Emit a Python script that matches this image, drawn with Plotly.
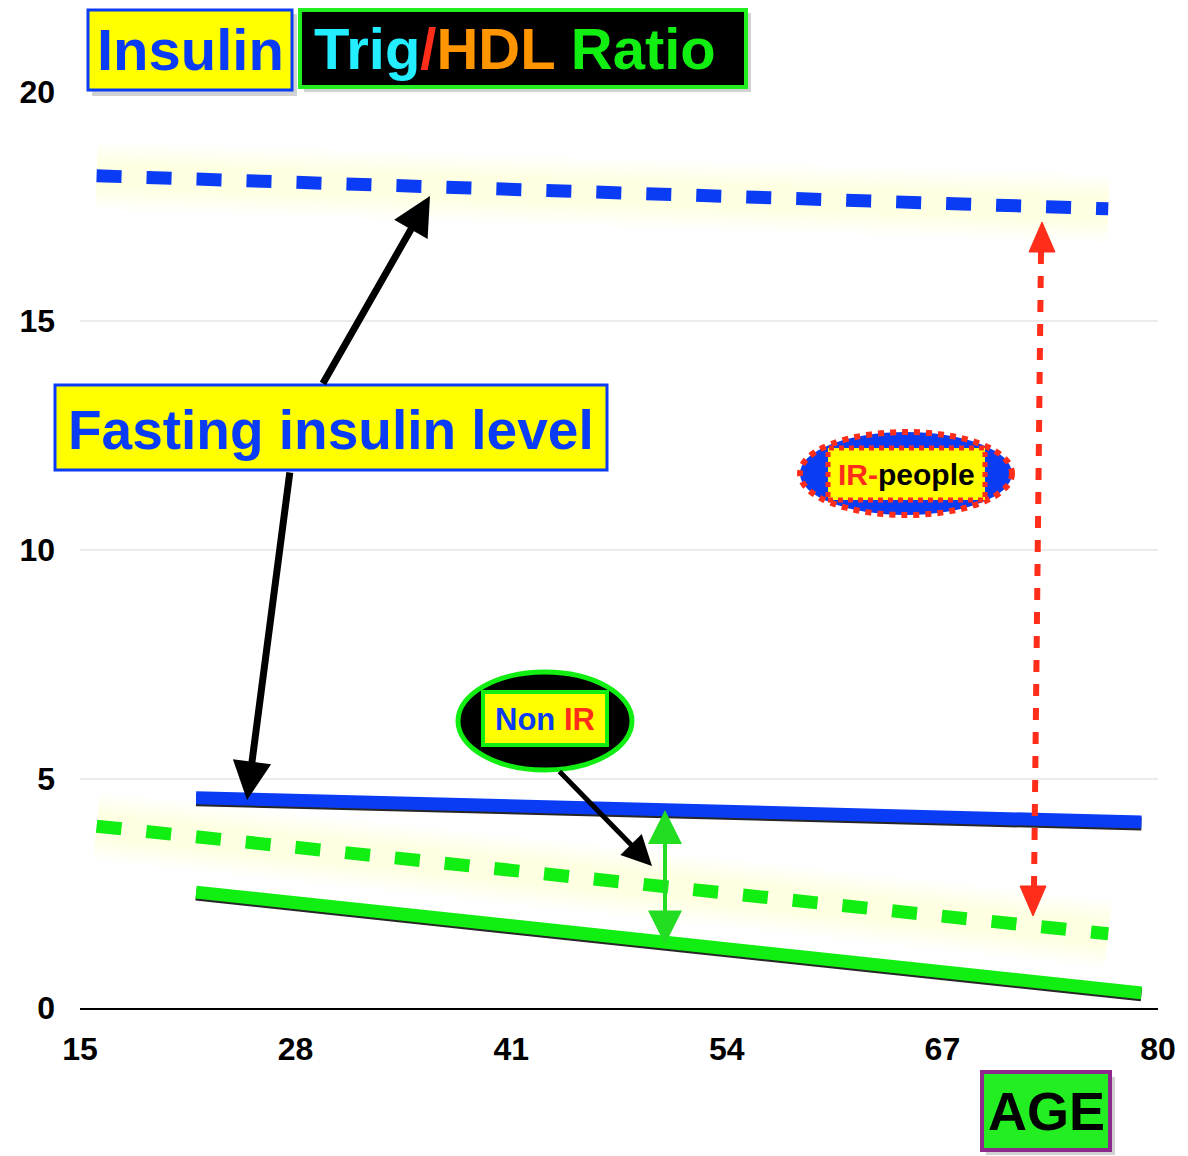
"""Insulin and Trig/HDL ratio by age: IR people vs non IR people."""
import plotly.graph_objects as go

# ---- data ----
age_solid = [22, 40, 58, 76, 79]
insulin_non_ir = [4.59, 4.43, 4.26, 4.09, 4.06]
ratio_non_ir = [2.53, 1.84, 1.14, 0.45, 0.33]

age_dashed = [16, 35, 54, 73, 77]
insulin_ir = [18.17, 17.95, 17.72, 17.50, 17.45]
ratio_ir = [3.97, 3.24, 2.51, 1.78, 1.62]

x_ticks = [15, 28, 41, 54, 67, 80]
y_ticks = [0, 5, 10, 15, 20]

BLUE = "#0A3CF5"
GREEN = "#11EE11"
YELLOW = "#FFFF00"
RED = "#FF2D1A"
FONT = "Liberation Sans"

# the page puts the figure 8px in from the corner, so the figure is 8px smaller
OFF = 8
W, H = 1188 - OFF, 1156 - OFF
L, R, T, B = 80 - OFF, 30, 92 - OFF, 148
PW, PH = W - L - R, H - T - B


def px(xp):
    # page pixel -> paper x
    return (xp - 80) / PW


def py(yp):
    # page pixel -> paper y
    return (1008 - yp) / PH


fig = go.Figure()

# soft yellow glow under the dashed (IR) lines
for ys in (insulin_ir, ratio_ir):
    for w in (66, 56, 46, 36, 26):
        fig.add_trace(go.Scatter(x=age_dashed, y=ys, mode="lines",
                                 line=dict(color="rgba(255,250,110,0.045)", width=w),
                                 hoverinfo="skip", showlegend=False))

# dark shadow just under the solid lines
shift = 2 * 20 / PH
for ys in (insulin_non_ir, ratio_non_ir):
    fig.add_trace(go.Scatter(x=age_solid, y=[v - shift for v in ys], mode="lines",
                             line=dict(color="rgba(0,0,0,0.85)", width=13),
                             hoverinfo="skip", showlegend=False))

fig.add_trace(go.Scatter(x=age_solid, y=insulin_non_ir, mode="lines", name="Insulin (non IR)",
                         line=dict(color=BLUE, width=13)))
fig.add_trace(go.Scatter(x=age_solid, y=ratio_non_ir, mode="lines", name="Trig/HDL (non IR)",
                         line=dict(color=GREEN, width=13)))
fig.add_trace(go.Scatter(x=age_dashed, y=insulin_ir, mode="lines", name="Insulin (IR)",
                         line=dict(color=BLUE, width=13, dash="25px,25px")))
fig.add_trace(go.Scatter(x=age_dashed, y=ratio_ir, mode="lines", name="Trig/HDL (IR)",
                         line=dict(color=GREEN, width=13, dash="25px,25px")))


def rect(x0, y0, x1, y1, fill, line, lw, dash="solid", kind="rect"):
    return dict(type=kind, xref="paper", yref="paper", x0=px(x0), x1=px(x1),
                y0=py(y1), y1=py(y0), fillcolor=fill, layer="above",
                line=dict(color=line, width=lw, dash=dash))


def label(x, y, text, size, color="black"):
    return dict(xref="paper", yref="paper", x=px(x), y=py(y), text=text, showarrow=False,
                xanchor="center", yanchor="middle",
                font=dict(family=FONT, size=size, color=color, weight="bold"))


def arrow(hx, hy, tx, ty, color, width, size, side="end"):
    return dict(xref="paper", yref="paper", x=px(hx), y=py(hy), ax=tx - hx, ay=ty - hy,
                text="", showarrow=True, arrowhead=2, arrowsize=size, arrowwidth=width,
                arrowcolor=color, arrowside=side, startarrowhead=2, startarrowsize=size)


shapes = [
    # title boxes with a faint drop shadow
    rect(92, 14, 297, 96, "rgba(0,0,0,0.18)", "rgba(0,0,0,0)", 0),
    rect(304, 13, 751, 92, "rgba(0,0,0,0.18)", "rgba(0,0,0,0)", 0),
    rect(88, 10, 292, 90, YELLOW, BLUE, 3),
    rect(300, 10, 746, 87, "black", "#22EE22", 4),
    # fasting insulin label
    rect(55, 385, 607, 470, YELLOW, BLUE, 3),
    # Non IR bubble
    rect(458, 672, 632, 770, "black", GREEN, 5, kind="circle"),
    rect(483, 692, 607, 745, YELLOW, GREEN, 4),
    # IR-people bubble
    rect(800, 432, 1012, 515, BLUE, RED, 6, dash="dot", kind="circle"),
    rect(828, 448, 985, 500, YELLOW, RED, 5, dash="dot"),
    # red dotted gap arrow
    dict(type="line", xref="paper", yref="paper", x0=px(1041), y0=py(252), x1=px(1034), y1=py(888),
         layer="above", line=dict(color=RED, width=6, dash="12px,12px")),
    dict(type="path", xref="paper", yref="paper", layer="above", fillcolor=RED,
         line=dict(color=RED, width=1),
         path=f"M {px(1042)} {py(222)} L {px(1029)} {py(252)} L {px(1055)} {py(252)} Z"),
    dict(type="path", xref="paper", yref="paper", layer="above", fillcolor=RED,
         line=dict(color=RED, width=1),
         path=f"M {px(1033)} {py(916)} L {px(1020)} {py(886)} L {px(1046)} {py(886)} Z"),
    # AGE box
    rect(986, 1077, 1115, 1155, "rgba(0,0,0,0.18)", "rgba(0,0,0,0)", 0),
    rect(982, 1072, 1110, 1150, "#22EE22", "#8E2A8E", 4),
]

annotations = [
    arrow(430, 196, 322, 385, "black", 7, 1.1),
    arrow(247, 800, 290, 471, "black", 7, 1.1),
    arrow(652, 866, 558, 770, "black", 5, 1.2),
    arrow(665, 810, 665, 946, "#22DD22", 4, 1.7, side="end+start"),
    label(190, 50, "Insulin", 58, BLUE),
    label(515, 48, '<span style="color:#22EEFF">Trig</span><span style="color:#FF2D1A">/</span>'
                   '<span style="color:#FF9500">HDL</span> <span style="color:#11EE11">Ratio</span>', 58),
    label(331, 430, "Fasting insulin level", 55, BLUE),
    label(545, 720, f'<span style="color:{BLUE}">Non</span> <span style="color:{RED}">IR</span>', 31),
    label(906, 474, f'<span style="color:{RED}">IR-</span><span style="color:black">people</span>', 30),
    label(1046, 1111, "AGE", 54, "black"),
]

fig.update_layout(
    width=W, height=H,
    margin=dict(l=L, r=R, t=T, b=B),
    paper_bgcolor="white", plot_bgcolor="white",
    showlegend=False,
    shapes=shapes, annotations=annotations,
)
fig.update_xaxes(range=[15, 80], tickvals=x_ticks, showgrid=False, zeroline=False,
                 showline=True, linecolor="black", linewidth=2, ticks="",
                 ticklabelstandoff=12,
                 tickfont=dict(family=FONT, size=32, color="black", weight="bold"))
fig.update_yaxes(range=[0, 20], tickvals=y_ticks, showgrid=True, gridcolor="#ebebeb",
                 gridwidth=1.5, zeroline=False, ticks="", ticklabelstandoff=24,
                 tickfont=dict(family=FONT, size=32, color="black", weight="bold"))

fig.write_html("out.html")
